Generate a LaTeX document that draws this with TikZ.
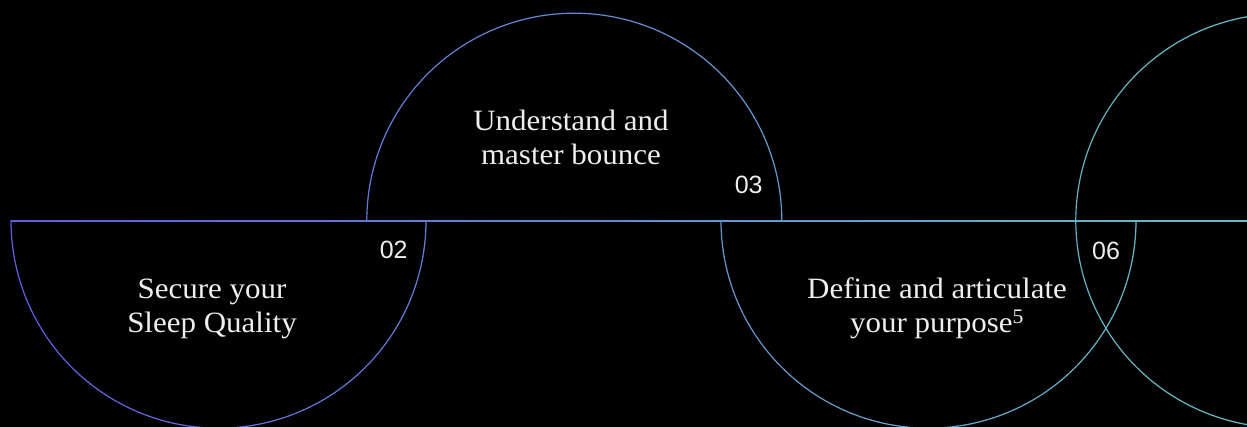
\documentclass[tikz,border=0pt]{standalone}
\usepackage{fontspec}
\setmainfont{Liberation Serif}[FakeStretch=1.05]
\newfontfamily\numfont{Liberation Sans}
\definecolor{gL}{RGB}{98,92,220}
\definecolor{gR}{RGB}{100,190,195}
\definecolor{ink}{RGB}{238,238,236}
\tikzset{
  txt/.style={text=ink, font=\fontsize{29.5}{34}\selectfont, align=center, inner sep=0pt, anchor=base},
  num/.style={text=ink, font=\numfont\fontsize{25}{30}\selectfont, inner sep=0pt, anchor=base},
  stroke/.style={line width=1.2pt, line cap=round},
}
% gradient arc: centre x, centre y, radius, start angle, end angle
\newcommand\gradarc[5]{%
  \foreach \k in {0,...,89}{%
    \pgfmathsetmacro\st{(#5-#4)/90}%
    \pgfmathsetmacro\sa{#4+\st*\k}%
    \pgfmathsetmacro\ea{\sa+\st}%
    \pgfmathsetmacro\mx{#1+#3*cos(\sa+\st/2)}%
    \pgfmathtruncatemacro\pc{max(0,min(100,\mx/12.47))}%
    \colorlet{gc}{gR!\pc!gL}%
    \draw[stroke, gc] ({#1+#3*cos(\sa)},{#2+#3*sin(\sa)}) arc[start angle=\sa, end angle=\ea, radius=#3pt];
  }%
}
\begin{document}
\begin{tikzpicture}[x=1pt,y=1pt]
  \fill[black] (0,0) rectangle (1247,427);
  \useasboundingbox (0,0) rectangle (1247,427);
  \clip (0,0) rectangle (1247,427);
  % baseline
  \shade[left color=gL, right color=gR] (11,205.7) rectangle (1247,206.9);
  % arcs
  \gradarc{218.5}{206.3}{207.5}{180}{360}
  \gradarc{574.3}{206.3}{207.5}{0}{180}
  \gradarc{928.5}{206.3}{207.5}{180}{360}
  \gradarc{1282.8}{206.3}{207}{0}{360}
  % texts (anchor = baseline of the last line)
  \node[txt] (sec) at (212,94) {Secure your\\Sleep Quality};
  \node[txt] (und) at (571,262) {Understand and\\master bounce};
  \node[txt] (def) at (937,94) {Define and articulate\\your purpose\textsuperscript{5}};
  \node[num] (n02) at (393.7,168.7) {02};
  \node[num] (n03) at (748.7,233) {03};
  \node[num] (n06) at (1106,167.7) {06};
\end{tikzpicture}
\end{document}
